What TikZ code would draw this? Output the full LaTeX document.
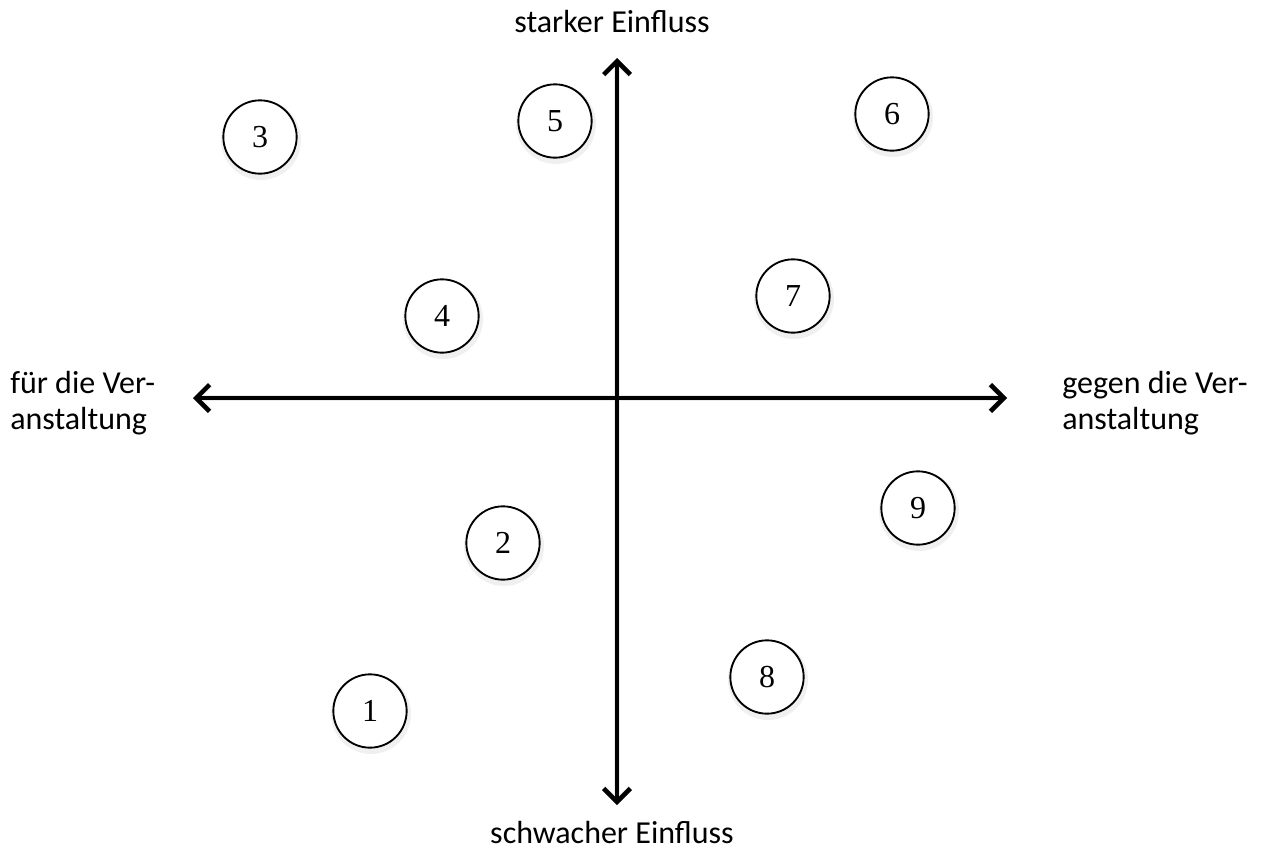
\documentclass[tikz,border=0pt]{standalone}
\usepackage{fontspec}
\setmainfont{Carlito}
\newfontfamily\numfont{Liberation Serif}
\usetikzlibrary{arrows.meta}
\begin{document}
\begin{tikzpicture}[x=0.75pt,y=-0.75pt,
  axis/.style={line width=3.6pt,{Straight Barb[length=10pt,width=20pt,line width=3.4pt]}-{Straight Barb[length=10pt,width=20pt,line width=3.4pt]}},
  axshadow/.style={line width=4.4pt,black!8,{Straight Barb[length=10pt,width=20pt,line width=4pt]}-{Straight Barb[length=10pt,width=20pt,line width=4pt]}},
  stake/.style={circle,draw,line width=1.4pt,fill=white,minimum size=55pt,inner sep=0pt,font=\numfont\fontsize{24}{28}\selectfont},
  stakeshadow/.style={circle,fill=black!6,minimum size=60pt,inner sep=0pt},
  lab/.style={font=\fontsize{24}{26.5}\selectfont,align=left,inner sep=0pt}]
\useasboundingbox (0,0) rectangle (1268,853);
% shadows
\foreach \x/\y in {370/711,503/543,260/137,442/316,555/121,892/114,793/296,767/677,918/508}
  \node[stakeshadow] at (\x+1,\y+3) {};
\coordinate (top) at (617,58);
\coordinate (bot) at (617,805);
\coordinate (lft) at (193,398);
\coordinate (rgt) at (1007,398);
\draw[axshadow,shift={(2.5pt,-2.5pt)}] (bot) -- (top);
\draw[axshadow,shift={(2.5pt,-2.5pt)}] (lft) -- (rgt);
\draw[axis] (bot) -- (top);
\draw[axis] (lft) -- (rgt);
\node[stake] (s1) at (370,711) {1};
\node[stake] (s2) at (503,543) {2};
\node[stake] (s3) at (260,137) {3};
\node[stake] (s4) at (442,316) {4};
\node[stake] (s5) at (555,121) {5};
\node[stake] (s6) at (892,114) {6};
\node[stake] (s7) at (793,296) {7};
\node[stake] (s8) at (767,677) {8};
\node[stake] (s9) at (918,508) {9};
\node[lab] (ttop) at (612,22) {starker Einfluss};
\node[lab] (tbot) at (612,832) {schwacher Einfluss};
\node[lab,anchor=west] (tl) at (10,403) {für die Ver-\\anstaltung};
\node[lab,anchor=west] (tr) at (1062,403) {gegen die Ver-\\anstaltung};
\end{tikzpicture}
\end{document}
